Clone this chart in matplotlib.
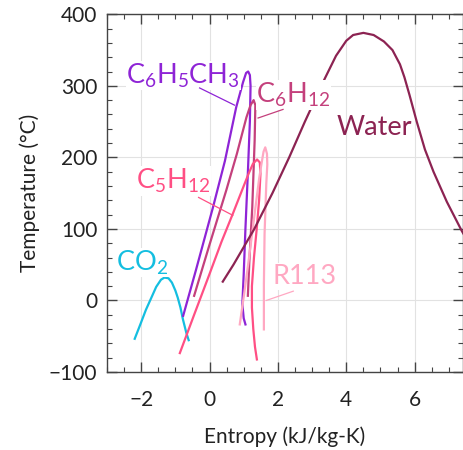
import matplotlib
matplotlib.use("Agg")
import matplotlib.pyplot as plt
from matplotlib.ticker import MultipleLocator

plt.rcParams['font.family'] = ['Lato', 'DejaVu Sans']
plt.rcParams['mathtext.default'] = 'regular'

# saturation domes, entropy (kJ/kg-K) and temperature (C)
co2_s = [-2.20, -2.02, -1.86, -1.70, -1.56, -1.42, -1.32, -1.20, -1.10, -1.00, -0.93, -0.85, -0.78, -0.68, -0.60]
co2_t = [-55, -33, -13, 4, 19, 29, 32, 31, 25, 14, 4, -10, -26, -45, -57]

tol_s = [-0.78, -0.40, 0.10, 0.45, 0.78, 0.98, 1.07, 1.13, 1.18, 1.20, 1.18, 1.12, 1.05, 1.00, 0.96, 1.00, 1.06]
tol_t = [-23, 42, 130, 195, 270, 305, 318, 320, 315, 300, 250, 177, 100, 37, -5, -25, -35]

chx_s = [-0.46, 0.00, 0.49, 0.80, 1.08, 1.20, 1.29, 1.34, 1.32, 1.25, 1.17, 1.12]
chx_t = [5, 78, 154, 205, 256, 273, 280, 273, 224, 130, 60, 5]

pen_s = [-0.88, -0.45, 0.00, 0.35, 0.68, 1.00, 1.15, 1.27, 1.39, 1.47, 1.49, 1.45, 1.38, 1.30, 1.24, 1.24, 1.28, 1.33, 1.39]
pen_t = [-75, -20, 37, 82, 121, 160, 178, 191, 197, 193, 177, 140, 100, 60, 20, -10, -40, -65, -84]

r113_s = [0.88, 1.00, 1.12, 1.25, 1.37, 1.45, 1.52, 1.58, 1.63, 1.68, 1.69, 1.66, 1.61, 1.59, 1.59]
r113_t = [-35, 5, 47, 95, 140, 170, 191, 208, 214, 205, 190, 163, 93, 23, -42]

water_s = [0.37, 0.70, 1.31, 1.84, 2.33, 2.79, 3.10, 3.37, 3.70, 4.00, 4.20, 4.50, 4.80, 5.10, 5.35, 5.57,
           5.70, 5.85, 6.06, 6.30, 6.55, 6.94, 7.38, 7.60]
water_t = [25, 50, 100, 150, 200, 250, 282, 310, 342, 363, 371, 374, 371, 362, 350, 330,
           312, 287, 250, 211, 180, 138, 97, 79]

fluids = ["CO2", "C6H5CH3", "C6H12", "C5H12", "R113", "Water"]
labels = [r"$CO_2$", r"$C_6H_5CH_3$", r"$C_6H_{12}$", r"$C_5H_{12}$", "R113", "Water"]
colors = ["#14BEE0", "#8E24D6", "#C4407C", "#FF4F84", "#FFA8C2", "#8C2352"]

fig = plt.figure(figsize=(4.63, 4.5), dpi=100)
ax = fig.add_axes([0.231, 0.1733, 0.768, 0.795])

curves = [(co2_s, co2_t), (tol_s, tol_t), (chx_s, chx_t), (pen_s, pen_t), (r113_s, r113_t), (water_s, water_t)]
for (s, t), c in zip(curves, colors):
    ax.plot(s, t, color=c, lw=1.6, solid_capstyle='butt', solid_joinstyle='round', zorder=2)

# labels with leader lines
lab_pos = [(-2.74, 42), (-2.43, 303), (1.37, 276), (-2.15, 156), (1.83, 23), (3.72, 231)]
leaders = [None,
           ((-0.29, 297), (0.73, 273)),
           ((2.15, 267), (1.42, 255)),
           ((-0.32, 144), (0.68, 119)),
           ((2.45, 13), (1.66, 0)),
           None]
for i, name in enumerate(fluids):
    x, y = lab_pos[i]
    box = None
    if name != "Water":
        box = dict(facecolor='white', edgecolor='none', pad=0.3)
    ax.text(x, y, labels[i], color=colors[i], fontsize=19.5, ha='left', va='baseline',
            bbox=box, zorder=3)
    if leaders[i] is not None:
        (x0, y0), (x1, y1) = leaders[i]
        ax.plot([x0, x1], [y0, y1], color=colors[i], lw=0.9, zorder=4)

ax.set_xlim(-3, 7.4)
ax.set_ylim(-100, 400)
ax.xaxis.set_minor_locator(MultipleLocator(0.5))
ax.yaxis.set_minor_locator(MultipleLocator(20))
ax.set_xticks([-2, 0, 2, 4, 6])
ax.set_xticklabels(["\u22122", "0", "2", "4", "6"])
ax.set_yticks([-100, 0, 100, 200, 300, 400])
ax.set_yticklabels(["\u2212100", "0", "100", "200", "300", "400"])
ax.tick_params(which='both', direction='in', top=True, right=True, colors='#444444',
               labelcolor='#222222', labelsize=15)
ax.tick_params(which='major', length=7, width=1.0, pad=7)
ax.tick_params(axis='x', which='major', pad=13)
ax.tick_params(which='minor', length=3.5, width=0.8)
ax.grid(True, which='major', color='#E2E2E2', lw=0.8, zorder=0)
ax.set_axisbelow(True)
for sp in ax.spines.values():
    sp.set_color('#444444')
    sp.set_linewidth(1.0)

ax.set_xlabel("Entropy (kJ/kg-K)", fontsize=15, color='#222222', labelpad=12)
ax.set_ylabel("Temperature (\u00b0C)", fontsize=15, color='#222222', labelpad=6)

fig.savefig("out.png", dpi=100)
